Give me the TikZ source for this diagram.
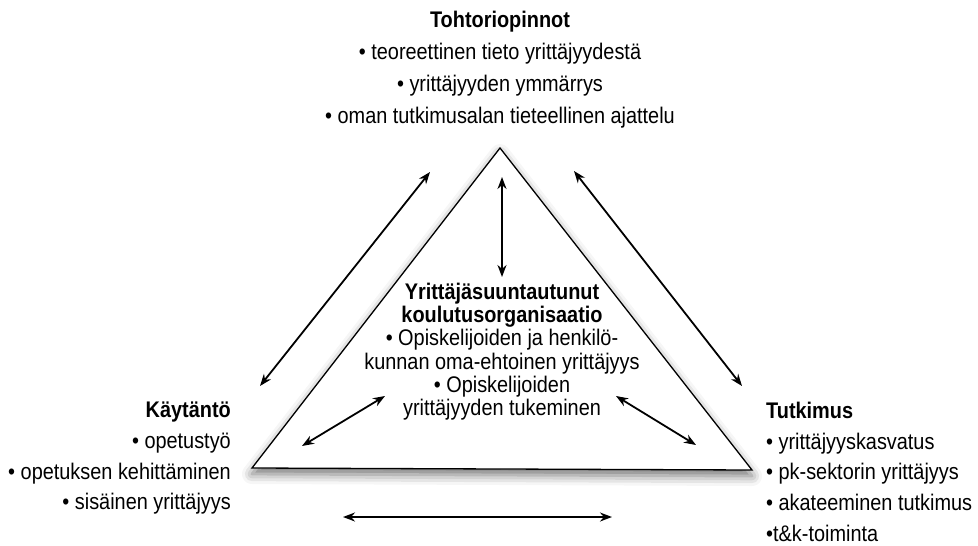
\documentclass[tikz,border=0pt]{standalone}
\usepackage{fontspec}
\setmainfont{Liberation Sans}[FakeStretch=0.88]
\usetikzlibrary{arrows.meta, positioning, shadows.blur}

\begin{document}
\begin{tikzpicture}[x=1pt, y=-1pt,
    toptext/.style={align=center, inner sep=0pt, font=\fontsize{22.6}{32}\selectfont},
    midtext/.style={align=center, inner sep=0pt, font=\fontsize{22.6}{23.2}\selectfont},
    sidetext/.style={inner sep=0pt, font=\fontsize{22.6}{30.7}\selectfont},
    twoway/.style={{Stealth[length=12pt,width=9pt]}-{Stealth[length=12pt,width=9pt]}, line width=1.8pt}]
  \useasboundingbox (0,0) rectangle (978,546);

  % triangle
  \coordinate (apex) at (500,148);
  \coordinate (bl) at (252,468);
  \coordinate (br) at (752,470);
  \filldraw [fill=white, line width=1.3pt,
    blur shadow={shadow xshift=0pt, shadow yshift=-6pt, shadow blur radius=10pt, shadow opacity=55}]
    (apex) -- (bl) -- (br) -- cycle;

  \node (doctor) [toptext, anchor=north] at (500,11)
    {\textbf{Tohtoriopinnot}\\
     • teoreettinen tieto yrittäjyydestä\\
     • yrittäjyyden ymmärrys\\
     • oman tutkimusalan tieteellinen ajattelu};
  \node (org) [midtext, anchor=north] at (502,283)
    {\textbf{Yrittäjäsuuntautunut}\\
     \textbf{koulutusorganisaatio}\\
     • Opiskelijoiden ja henkilö-\\
     kunnan oma-ehtoinen yrittäjyys\\
     • Opiskelijoiden\\
     yrittäjyyden tukeminen};
  \node (practice) [sidetext, align=right, anchor=north east] at (231,402)
    {\textbf{Käytäntö}\\
     • opetustyö\\
     • opetuksen kehittäminen\\
     • sisäinen yrittäjyys};
  \node (research) [sidetext, align=left, anchor=north west] at (766,402)
    {\textbf{Tutkimus}\\
     • yrittäjyyskasvatus\\
     • pk-sektorin yrittäjyys\\
     • akateeminen tutkimus\\
     •t\&k-toiminta};

  % arrow ends
  \coordinate (lo1) at (260,386);  \coordinate (lo2) at (430,172);
  \coordinate (ro1) at (574,171);  \coordinate (ro2) at (742,386);
  \coordinate (v1) at (502,177);   \coordinate (v2) at (502,277);
  \coordinate (li1) at (302,446);  \coordinate (li2) at (385,396);
  \coordinate (ri1) at (616,396);  \coordinate (ri2) at (696,445);
  \coordinate (b1) at (343,517);   \coordinate (b2) at (612,517);

  \draw [twoway] (lo1) -- (lo2);
  \draw [twoway] (ro1) -- (ro2);
  \draw [twoway] (v1) -- (v2);
  \draw [twoway] (li1) -- (li2);
  \draw [twoway] (ri1) -- (ri2);
  \draw [twoway] (b1) -- (b2);
\end{tikzpicture}
\end{document}
